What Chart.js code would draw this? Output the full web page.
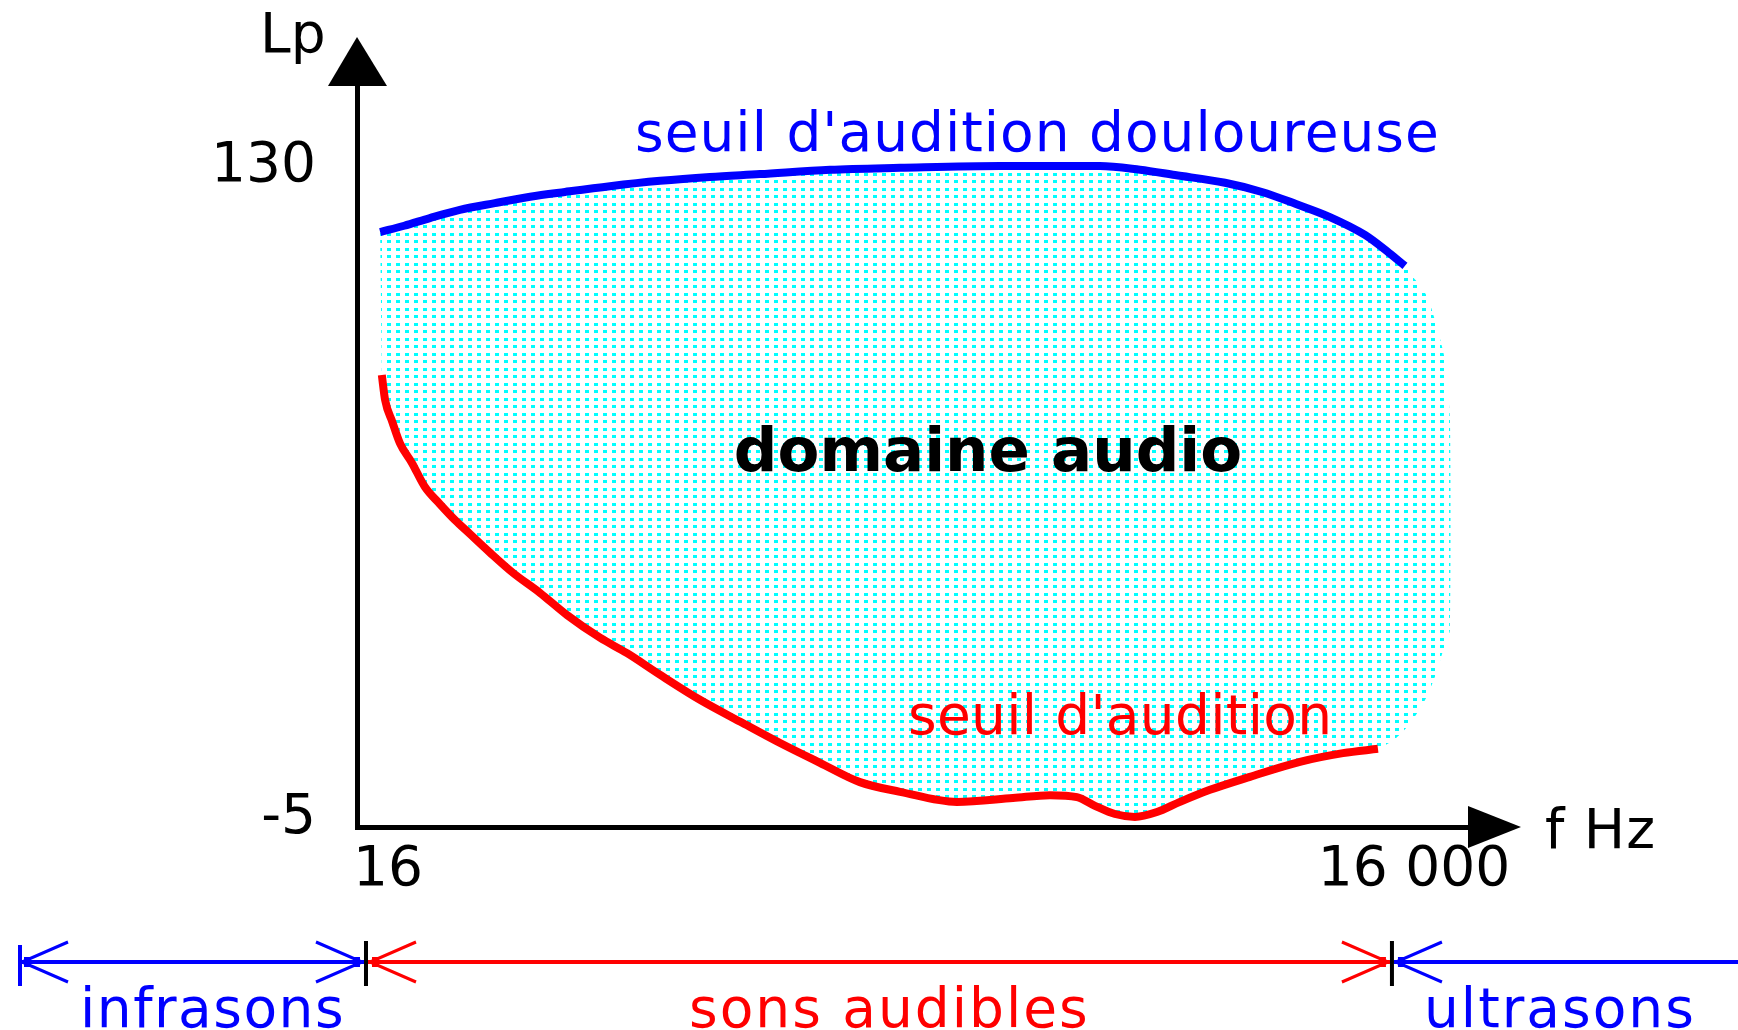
<!DOCTYPE html>
<html><head><meta charset="utf-8">
<script src="https://cdn.jsdelivr.net/npm/chart.js@4.4.1/dist/chart.umd.min.js"></script>
<style>html,body{margin:0;padding:0;background:#fff;overflow:hidden}#wrap{width:1738px;height:1030px}canvas{display:block}</style>
</head><body><div id="wrap"><canvas id="c" width="1738" height="1030"></canvas></div>
<script>
// ---- data (frequency in Hz, level in dB) ----
const painFreq  = [17.6, 20.7, 24.6, 30.1, 38.1, 48.3, 61.1, 82.7, 116, 162, 227, 364, 583, 1143, 2240, 2933, 3712, 5198, 6668, 8384, 10540, 13343, 15681, 17464];
const painLevel = [115.7, 117.0, 118.6, 120.3, 121.7, 123.0, 124.0, 125.2, 126.3, 127.1, 127.7, 128.6, 129.0, 129.4, 129.4, 128.6, 127.5, 125.9, 124.0, 121.5, 118.8, 115.1, 111.4, 108.7];
const hearFreq  = [17.8, 18.2, 19.1, 20.1, 21.8, 23.8, 26.3, 29.1, 32.2, 36.9, 43.1, 51.6, 61.9, 77.3, 92.8, 116, 152, 199, 260, 340, 445, 583, 855, 1247, 1600, 1919, 2166, 2479, 2836, 3288, 3839, 4698, 6151, 8612, 11505, 14561];
const hearLevel = [86.1, 80.9, 76.4, 72.0, 67.9, 62.9, 59.4, 56.1, 53.2, 49.3, 45.1, 41.0, 36.4, 31.7, 28.5, 24.0, 18.8, 14.3, 9.9, 5.8, 1.8, -0.2, -2.3, -1.5, -0.9, -1.3, -3.1, -4.8, -5.4, -4.4, -2.3, 0.2, 2.9, 6.0, 7.8, 8.7];
const edgeFreq  = [18307, 19320, 20390, 21664, 22863, 23646, 23646, 22710, 21518, 20254, 19060, 17819, 16437];
const edgeLevel = [106.6, 104.7, 102.0, 96.0, 89.2, 76.8, 33.3, 29.6, 24.2, 19.6, 16.3, 13.4, 10.9];
const xTicks = [16, 16000];
const xTickLabels = ['16', '16 000'];
const yTicks = [-5, 130];
const yTickLabels = ['-5', '130'];
const xTitle = 'f Hz';
const yTitle = 'Lp';
const painLabel = "seuil d'audition douloureuse";
const hearLabel = "seuil d'audition";
const zoneLabel = 'domaine audio';
const rangeLabels = ['infrasons', 'sons audibles', 'ultrasons'];

// ---- build library structures ----
const pts = (xs, ys) => xs.map((x, i) => ({x: x, y: ys[i]}));
const painPts = pts(painFreq, painLevel);
const hearPts = pts(hearFreq, hearLevel);
const regionPts = painPts.concat(pts(edgeFreq, edgeLevel), hearPts.slice().reverse());

const tile = document.createElement('canvas');
tile.width = 9; tile.height = 15;
const tctx = tile.getContext('2d');
tctx.fillStyle = '#00FFFF';
tctx.fillRect(0, 0, 4, 3);
tctx.fillRect(0, 8, 4, 3);
const dots = document.createElement('canvas').getContext('2d').createPattern(tile, 'repeat');

const FONT = "'DejaVu Sans'";

function txt(ctx, s, x, y, color, size, align, weight, spacing) {
  ctx.save();
  ctx.font = (weight || 'normal') + ' ' + size + 'px ' + FONT;
  ctx.fillStyle = color;
  ctx.textAlign = align || 'left';
  ctx.textBaseline = 'alphabetic';
  if ('letterSpacing' in ctx) ctx.letterSpacing = (spacing || 0) + 'px';
  ctx.fillText(s, x, y);
  ctx.restore();
}

const deco = {
  id: 'deco',
  afterDatasetsDraw(chart) {
    const ctx = chart.ctx;
    txt(ctx, painLabel, 635, 151, '#0000FF', 55, 'left', 'normal', 1);
    txt(ctx, hearLabel, 908, 734, '#FF0000', 55, 'left', 'normal', 0.3);
    txt(ctx, zoneLabel, 988, 471, '#000000', 61, 'center', 'bold', 0);
  },
  afterDraw(chart) {
    const ctx = chart.ctx, ca = chart.chartArea, xs = chart.scales.x;
    ctx.save();
    ctx.fillStyle = '#000';
    // y axis arrow
    ctx.beginPath();
    ctx.moveTo(ca.left, ca.top - 49);
    ctx.lineTo(ca.left + 30, ca.top);
    ctx.lineTo(ca.left - 29, ca.top);
    ctx.closePath(); ctx.fill();
    // x axis arrow
    ctx.beginPath();
    ctx.moveTo(ca.right + 53, ca.bottom);
    ctx.lineTo(ca.right, ca.bottom - 21);
    ctx.lineTo(ca.right, ca.bottom + 21);
    ctx.closePath(); ctx.fill();
    // axis titles
    txt(ctx, yTitle, 260, 52, '#000', 55, 'left');
    txt(ctx, xTitle, 1545, 848, '#000', 55, 'left', 'normal', 1);

    // frequency ranges line
    const yb = ca.bottom + 135;
    const x16 = xs.getPixelForValue(xTicks[0]);
    const x16k = xs.getPixelForValue(xTicks[1]);
    const W = chart.width;
    const seg = (x1, x2, c) => { ctx.strokeStyle = c; ctx.lineWidth = 4; ctx.beginPath(); ctx.moveTo(x1, yb); ctx.lineTo(x2, yb); ctx.stroke(); };
    const head = (xt, dir, c) => {
      ctx.strokeStyle = c; ctx.lineWidth = 3; ctx.beginPath();
      ctx.moveTo(xt + dir * 46, yb - 20); ctx.lineTo(xt, yb); ctx.lineTo(xt + dir * 46, yb + 20); ctx.stroke();
      ctx.fillStyle = c; ctx.fillRect(xt + (dir > 0 ? 2 : -9), yb - 5, 7, 10);
    };
    ctx.lineCap = 'butt';
    seg(20, x16 - 2, '#0000FF');
    ctx.fillStyle = '#0000FF'; ctx.fillRect(18, yb - 17, 4, 41);
    head(22, 1, '#0000FF');
    head(x16 - 4, -1, '#0000FF');
    seg(x16 + 2, x16k - 2, '#FF0000');
    head(x16 + 4, 1, '#FF0000');
    head(x16k - 4, -1, '#FF0000');
    seg(x16k + 2, W, '#0000FF');
    head(x16k + 4, 1, '#0000FF');
    ctx.fillStyle = '#000';
    ctx.fillRect(x16 - 2, yb - 21, 4, 45);
    ctx.fillRect(x16k - 2, yb - 21, 4, 45);
    txt(ctx, rangeLabels[0], 80, 1027, '#0000FF', 55, 'left', 'normal', 1.5);
    txt(ctx, rangeLabels[1], 689, 1027, '#FF0000', 55, 'left', 'normal', 2);
    txt(ctx, rangeLabels[2], 1424, 1027, '#0000FF', 55, 'left', 'normal', 2);
    ctx.restore();
  }
};

new Chart(document.getElementById('c'), {
  type: 'line',
  data: {
    datasets: [
      { label: zoneLabel, data: regionPts, order: 2, fill: 'shape', backgroundColor: dots,
        borderColor: 'rgba(0,0,0,0)', borderWidth: 0, pointRadius: 0, tension: 0.2 },
      { label: painLabel, data: painPts, order: 0, fill: false, borderColor: '#0000FF',
        borderWidth: 8, pointRadius: 0, cubicInterpolationMode: 'monotone' },
      { label: hearLabel, data: hearPts, order: 0, fill: false, borderColor: '#FF0000',
        borderWidth: 8, pointRadius: 0, cubicInterpolationMode: 'monotone' }
    ]
  },
  options: {
    responsive: false,
    animation: false,
    events: [],
    layout: { padding: { top: 86, right: 270, left: 0, bottom: 0 } },
    plugins: { legend: { display: false }, tooltip: { enabled: false }, title: { display: false } },
    scales: {
      x: {
        type: 'logarithmic', position: 'bottom', min: 15.06, max: 26700,
        grid: { display: false, drawTicks: false },
        border: { display: true, color: '#000', width: 5 },
        afterBuildTicks: s => { s.ticks = xTicks.map(v => ({ value: v })); },
        afterFit: s => { s.height = 203; },
        ticks: {
          autoSkip: false, maxRotation: 0, minRotation: 0, padding: 11, labelOffset: 22,
          color: '#000', font: { family: 'DejaVu Sans', size: 55 },
          callback: (v) => xTickLabels[xTicks.indexOf(v)]
        }
      },
      y: {
        type: 'linear', position: 'left', min: -7.49, max: 145.94,
        grid: { display: false, drawTicks: false },
        border: { display: true, color: '#000', width: 5 },
        afterBuildTicks: s => { s.ticks = yTicks.map(v => ({ value: v })); },
        afterFit: s => { s.width = 357; },
        ticks: {
          autoSkip: false, padding: 41, labelOffset: 4, color: '#000',
          font: { family: 'DejaVu Sans', size: 55 },
          callback: (v) => yTickLabels[yTicks.indexOf(v)]
        }
      }
    }
  },
  plugins: [deco]
});
</script>
</body></html>
